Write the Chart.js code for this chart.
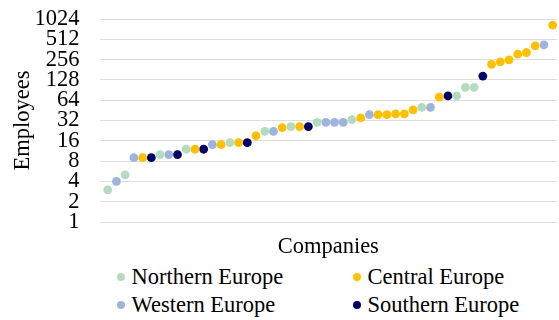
<!DOCTYPE html>
<html>
<head>
<meta charset="utf-8">
<script src="https://cdn.jsdelivr.net/npm/chart.js@4/dist/chart.umd.min.js"></script>
<style>
    body { margin: 0; background: #fff; }
    #wrap { position: relative; width: 559px; height: 320px; }
    #box { position: absolute; left: 0; top: 0; width: 559px; height: 261px; }
    #legend { position: absolute; left: 0; top: 263px; width: 559px; font: 22.5px "Liberation Serif", "Times New Roman", serif; color: #000; }
    .item { position: absolute; height: 28px; line-height: 28px; white-space: nowrap; }
    .dot { display: inline-block; width: 8px; height: 8px; border-radius: 50%; margin-right: 7px; vertical-align: middle; position: relative; top: -2px; }
</style>
</head>
<body>
<div id="wrap">
    <div id="box"><canvas id="employeesChart"></canvas></div>
    <div id="legend"></div>
</div>
<script>
// employees per company, sorted, with the region of each company
const employees = [3, 4, 5, 9, 9, 9, 10, 10, 10, 12, 12, 12, 14, 14, 15, 15, 15, 19, 22, 22,
    25, 26, 26, 26, 30, 30, 30, 30, 33, 35, 39, 39, 39, 40, 40, 46, 50, 50, 71, 74,
    74, 99, 99, 146, 218, 237, 254, 308, 326, 410, 424, 833];
const regionOf = ["N", "W", "N", "W", "C", "S", "N", "W", "S", "N", "C", "S", "W", "C", "N", "C", "S", "C", "N", "W",
    "C", "N", "C", "S", "N", "W", "W", "W", "N", "C", "W", "C", "C", "C", "C", "C", "N", "W", "C", "S",
    "N", "N", "N", "S", "C", "C", "C", "C", "C", "C", "W", "C"];
const regionKeys = ["N", "C", "W", "S"];
const regionNames = ["Northern Europe", "Central Europe", "Western Europe", "Southern Europe"];
const regionColors = ["#b4dbbf", "#ffc000", "#9fb4dc", "#000066"];
const yTicks = [1, 2, 4, 8, 16, 32, 64, 128, 256, 512, 1024];

const serif = "'Liberation Serif', 'Times New Roman', serif";

const datasets = regionKeys.map(function (key, r) {
    const pts = [];
    employees.forEach(function (v, i) {
        if (regionOf[i] === key) pts.push({ x: i + 1, y: v });
    });
    return {
        label: regionNames[r],
        data: pts,
        backgroundColor: regionColors[r],
        borderWidth: 0,
        pointRadius: 4.4,
        pointHoverRadius: 4.4
    };
});

new Chart(document.getElementById("employeesChart"), {
    type: "scatter",
    data: { datasets: datasets },
    options: {
        responsive: true,
        maintainAspectRatio: false,
        animation: false,
        layout: { autoPadding: false, padding: { left: 10, right: 2, top: 19, bottom: 0 } },
        plugins: { legend: { display: false }, tooltip: { enabled: false } },
        scales: {
            x: {
                type: "linear",
                min: 0.06,
                max: 52.5,
                grid: { display: false, drawTicks: false },
                border: { display: false },
                ticks: { display: false },
                title: { display: true, text: "Companies", color: "#000", font: { family: serif, size: 22.5 }, padding: { top: 12, bottom: 0 } }
            },
            y: {
                type: "logarithmic",
                min: 1,
                max: 1024,
                afterBuildTicks: function (scale) {
                    scale.ticks = yTicks.map(function (v) { return { value: v }; });
                },
                afterFit: function (scale) { scale.width = 89.5; },
                grid: { color: "#dedede", lineWidth: 1, drawTicks: true, tickLength: 20, tickColor: "rgba(0,0,0,0)" },
                border: { display: false },
                ticks: {
                    color: "#000",
                    padding: 0,
                    autoSkip: false,
                    font: { family: serif, size: 22.5 },
                    callback: function (v) { return String(v); }
                },
                title: { display: true, text: "Employees", color: "#000", font: { family: serif, size: 22.5 }, padding: { top: 0, bottom: 0 } }
            }
        }
    }
});

// legend in two columns, like the original
const legendPos = [[116.5, 0], [352.5, 0], [116.5, 28], [352.5, 28]];
const legend = document.getElementById("legend");
regionNames.forEach(function (name, r) {
    const el = document.createElement("div");
    el.className = "item";
    el.style.left = legendPos[r][0] + "px";
    el.style.top = legendPos[r][1] + "px";
    el.innerHTML = '<span class="dot" style="background:' + regionColors[r] + '"></span>' + name;
    legend.appendChild(el);
});
</script>
</body>
</html>
